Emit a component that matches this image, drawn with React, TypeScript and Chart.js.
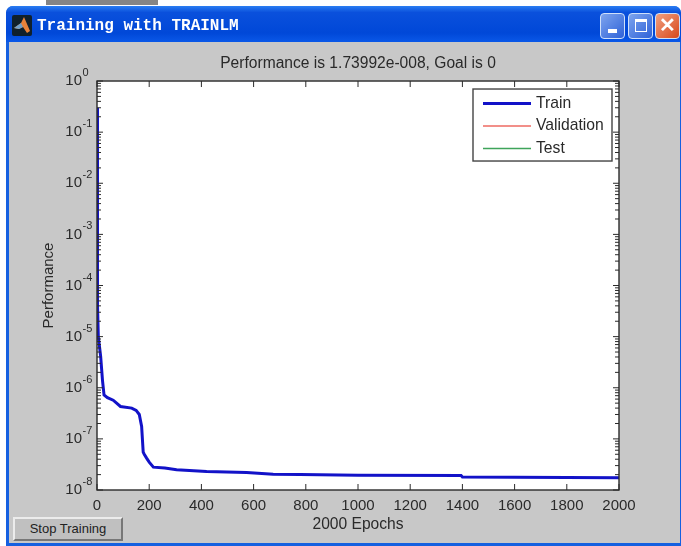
import React, { useEffect, useRef } from "react";
import { Chart, registerables } from "chart.js";

Chart.register(...registerables);

const epochs = [0, 1, 3, 5, 14, 21, 27, 40, 62, 90, 133, 150, 162, 171, 177, 181, 190, 200, 216, 260, 305, 387, 420, 573, 675, 778, 1000, 1395, 1400, 2000];
const trainPerf = [0.3, 2e-3, 4e-5, 1e-5, 4.1e-6, 1.4e-6, 7.2e-7, 6.4e-7, 5.7e-7, 4.3e-7, 4e-7, 3.6e-7, 3e-7, 1.75e-7, 5.5e-8, 5e-8, 4.2e-8, 3.5e-8, 2.8e-8, 2.7e-8, 2.5e-8, 2.35e-8, 2.29e-8, 2.19e-8, 2.04e-8, 2.02e-8, 1.95e-8, 1.92e-8, 1.8e-8, 1.74e-8];
const decades = [-8, -7, -6, -5, -4, -3, -2, -1, 0];
const minorFactors = [2, 3, 4, 5, 6, 7, 8, 9];
const xTicks = [0, 200, 400, 600, 800, 1000, 1200, 1400, 1600, 1800, 2000];
const seriesNames = ["Train", "Validation", "Test"];
const seriesColors = ["#1212c8", "#ee6a62", "#3fa45a"];
const seriesWidths = [3, 1.5, 1.5];
const chartTitle = "Performance is 1.73992e-008, Goal is 0";
const xTitle = "2000 Epochs";
const yTitle = "Performance";
const windowTitle = "Training with TRAINLM";
const buttonLabel = "Stop Training";

const INK = "#2a2a2a";
const FONT = "'Liberation Sans', Arial, sans-serif";

const frame = {
  id: "frame",
  beforeDraw(chart: any) {
    const { ctx, chartArea: a } = chart;
    ctx.save();
    ctx.fillStyle = "#fff";
    ctx.fillRect(a.left, a.top, a.width, a.height);
    ctx.restore();
  },
  afterDraw(chart: any) {
    const { ctx, chartArea: a, scales } = chart;
    ctx.save();
    ctx.strokeStyle = INK;
    ctx.lineWidth = 1.4;
    ctx.strokeRect(a.left, a.top, a.width, a.height);
    ctx.lineWidth = 1;
    ctx.beginPath();
    for (const t of scales.x.ticks) {
      const px = scales.x.getPixelForValue(t.value);
      ctx.moveTo(px, a.bottom);
      ctx.lineTo(px, a.bottom - 6);
      ctx.moveTo(px, a.top);
      ctx.lineTo(px, a.top + 6);
    }
    for (const t of scales.y.ticks) {
      const py = scales.y.getPixelForValue(t.value);
      const len = t.major ? 6 : 4;
      ctx.moveTo(a.left, py);
      ctx.lineTo(a.left + len, py);
      ctx.moveTo(a.right, py);
      ctx.lineTo(a.right - len, py);
    }
    ctx.stroke();

    // exponents of the decade labels
    ctx.fillStyle = INK;
    ctx.font = `11px ${FONT}`;
    ctx.textAlign = "left";
    ctx.textBaseline = "middle";
    for (const d of decades) {
      ctx.fillText(String(d), 82.5, scales.y.getPixelForValue(Math.pow(10, d)) - 8);
    }

    // legend box inside the plot
    const lx = a.right - 146;
    const ly = a.top + 8;
    ctx.fillStyle = "#fff";
    ctx.fillRect(lx, ly, 139, 72);
    ctx.strokeStyle = "#444";
    ctx.lineWidth = 1.4;
    ctx.strokeRect(lx, ly, 139, 72);
    ctx.font = `15.7px ${FONT}`;
    chart.data.datasets.forEach((ds: any, i: number) => {
      const y = ly + 14.5 + i * 22.5;
      ctx.strokeStyle = ds.borderColor;
      ctx.lineWidth = ds.borderWidth;
      ctx.beginPath();
      ctx.moveTo(lx + 10, y);
      ctx.lineTo(lx + 58, y);
      ctx.stroke();
      ctx.fillStyle = INK;
      ctx.fillText(ds.label, lx + 63, y);
    });
    ctx.restore();
  },
};

export default function App() {
  const ref = useRef<HTMLCanvasElement>(null);
  useEffect(() => {
    const chart = new Chart(ref.current!, {
      type: "line",
      data: {
        datasets: seriesNames.map((name, i) => ({
          label: name,
          data: i === 0 ? epochs.map((x, k) => ({ x, y: trainPerf[k] })) : [],
          borderColor: seriesColors[i],
          borderWidth: seriesWidths[i],
          pointRadius: 0,
          tension: 0,
        })),
      },
      plugins: [frame],
      options: {
        responsive: false,
        animation: false,
        layout: { padding: { right: 62 } },
        plugins: {
          legend: { display: false },
          tooltip: { enabled: false },
          title: {
            display: true,
            text: chartTitle,
            fullSize: false,
            color: INK,
            font: { family: FONT, size: 15.6, weight: "normal" },
            padding: { top: 54, bottom: 8.3 },
          },
        },
        scales: {
          x: {
            type: "linear",
            min: 0,
            max: 2000,
            grid: { display: false, drawTicks: false },
            border: { display: false },
            afterBuildTicks: (s: any) => {
              s.ticks = xTicks.map((value) => ({ value }));
            },
            afterFit: (s: any) => {
              s.height = 56;
            },
            ticks: {
              color: INK,
              maxRotation: 0,
              autoSkip: false,
              padding: 7,
              font: { family: FONT, size: 15 },
              callback: (v: any) => String(v),
            },
            title: {
              display: true,
              text: xTitle,
              color: INK,
              font: { family: FONT, size: 15.6 },
              padding: { top: 0, bottom: 12 },
            },
          },
          y: {
            type: "logarithmic",
            min: 1e-8,
            max: 1,
            grid: { display: false, drawTicks: false },
            border: { display: false },
            afterBuildTicks: (s: any) => {
              const out: any[] = [];
              decades.forEach((d) => {
                out.push({ value: Math.pow(10, d), major: true });
                if (d < 0) minorFactors.forEach((f) => out.push({ value: f * Math.pow(10, d), major: false }));
              });
              s.ticks = out;
            },
            afterFit: (s: any) => {
              s.width = 97;
            },
            ticks: {
              color: INK,
              autoSkip: false,
              padding: 15,
              font: { family: FONT, size: 15 },
              callback: (v: any) => (decades.some((d) => Math.abs(Math.log10(v) - d) < 1e-6) ? "10" : ""),
            },
            title: {
              display: true,
              text: yTitle,
              color: INK,
              font: { family: FONT, size: 15 },
              padding: { top: 40, bottom: 0 },
            },
          },
        },
      },
    } as any);
    return () => chart.destroy();
  }, []);

  const abs = (l: number, t: number, w: number, h: number): React.CSSProperties => ({
    position: "absolute",
    left: l,
    top: t,
    width: w,
    height: h,
    boxSizing: "border-box",
  });
  const ctl = (l: number, bg: string): React.CSSProperties => ({
    ...abs(l, 13, 25, 26),
    borderRadius: 4,
    border: "1.5px solid #cfe0fa",
    background: bg,
  });

  return (
    <div style={{ position: "fixed", left: 0, top: 0, width: 681, height: 546, background: "#fff", overflow: "hidden", filter: "blur(0.4px)" }}>
      <div style={{ ...abs(46, 0, 112, 5), background: "#333", opacity: 0.6 }} />
      <div style={{ ...abs(6, 6, 675, 540), background: "#1560e0", borderRadius: "7px 7px 0 0" }} />
      <div style={{ ...abs(6, 6, 675, 36), background: "linear-gradient(#2a7df2 0%, #0a50dc 18%, #0048d8 75%, #0a58e8 100%)", borderRadius: "7px 7px 0 0" }} />
      <div style={{ ...abs(9, 42, 671, 501), background: "#c8c8c8" }} />
      <canvas ref={ref} width={681} height={546} style={{ position: "absolute", left: 0, top: 0, display: "block" }} />
      <div style={{ ...abs(12, 15, 20, 21), background: "#10202c", borderRadius: 2 }}>
        <svg width="20" height="21">
          <path d="M2 13 L9 8 L12 2 L18 16 L15 18 L11 12 L7 14 Z" fill="#e9823a" />
          <path d="M2 13 L9 8 L11 12 L7 14 Z" fill="#6f9fc8" />
        </svg>
      </div>
      <div style={{ position: "absolute", left: 37, top: 17, color: "#fff", font: "bold 16px 'Liberation Mono', monospace", whiteSpace: "pre" }}>{windowTitle}</div>
      <div style={ctl(600, "linear-gradient(135deg,#7da4ee,#2f62d8)")}>
        <div style={{ ...abs(7, 15, 9, 4), background: "#fff" }} />
      </div>
      <div style={ctl(628, "linear-gradient(135deg,#7da4ee,#2f62d8)")}>
        <div style={{ ...abs(6, 5, 12, 13), border: "1.5px solid #fff", borderTopWidth: 3 }} />
      </div>
      <div style={{ ...ctl(655, "linear-gradient(135deg,#f0a080,#d8481c)"), color: "#fff", font: "bold 20px/22px 'Liberation Sans', sans-serif", textAlign: "center" }}>✕</div>
      <div
        style={{
          ...abs(13, 517, 110, 24),
          background: "#c0c0c0",
          borderTop: "2px solid #ececec",
          borderLeft: "2px solid #ececec",
          borderRight: "2px solid #777",
          borderBottom: "2px solid #777",
          color: "#222",
          font: "13px/20px 'Liberation Sans', sans-serif",
          textAlign: "center",
        }}
      >
        {buttonLabel}
      </div>
    </div>
  );
}
